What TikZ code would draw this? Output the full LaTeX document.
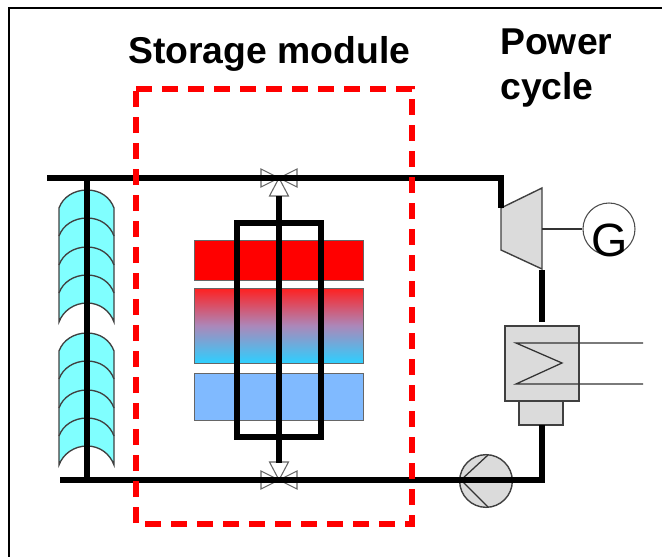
\documentclass[tikz,border=0pt]{standalone}
\usepackage{fontspec}
\setmainfont{Liberation Sans}
\definecolor{hot}{RGB}{255,0,0}
\definecolor{warm}{RGB}{255,32,32}
\definecolor{midc}{RGB}{172,135,185}
\definecolor{coolc}{RGB}{45,208,255}
\definecolor{cold}{RGB}{128,186,255}
\definecolor{mirrorc}{RGB}{128,255,255}
\tikzset{
  x=0.75pt,y=-0.75pt,
  pipe/.style={draw=black,line width=4.5pt,line cap=butt,line join=miter},
  thin line/.style={draw=black!80,line width=0.95pt},
  comp/.style={draw=black!75,line width=1.05pt,fill=black!14},
  tank/.style={draw=black!60,line width=0.65pt},
  mirror/.style={draw=black!75,line width=1pt,fill=mirrorc},
  valve/.style={draw=black!60,line width=0.8pt,fill=white},
  label/.style={font=\bfseries\fontsize{28}{32}\selectfont,inner sep=0pt,anchor=base west}
}
\newcommand{\mirrorstack}[1]{%
  \begin{scope}[shift={(0,#1)}]
  \path[mirror] (59,208) .. controls (63,197) and (74,190) .. (87,190)
     .. controls (100,190) and (110,197) .. (114,208)
     -- (114,322) .. controls (110,311) and (100,303) .. (87,303)
     .. controls (74,303) and (63,311) .. (59,322) -- cycle;
  \foreach \d in {28,57,85}{%
    \draw[mirror,fill=none] (59,\d+208) .. controls (63,\d+197) and (74,\d+190) .. (87,\d+190)
     .. controls (100,\d+190) and (110,\d+197) .. (114,\d+208);
  }
  \end{scope}}
\begin{document}
\begin{tikzpicture}
\useasboundingbox (0,0) rectangle (662,557);
\draw[black,line width=1.5pt] (9,557) -- (9,7.5) -- (662,7.5);
% labels
\node[label] (lblS) at (128,63) {Storage module};
\node[label] (lblP) at (500,54) {Power};
\node[label] (lblC) at (500,99.5) {cycle};
% mirrors
\mirrorstack{0}
\mirrorstack{143}
% tanks
\shade[top color=warm,bottom color=coolc,middle color=midc] (194,288) rectangle (363,363);
\path[tank,fill=hot] (194,240) rectangle (363,280);
\path[tank] (194,288) rectangle (363,363);
\path[tank,fill=cold] (194,373) rectangle (363,420);
% named points
\coordinate (topL) at (47,178);
\coordinate (botL) at (60,480);
\coordinate (vt) at (279,178);
\coordinate (vb) at (279,480);
\coordinate (tin) at (501,178);
% turbine
\path[comp] (501,208) -- (542,188) -- (542,269) -- (501,250) -- cycle;
\node[circle,draw=black!70,line width=0.8pt,fill=white,minimum size=39pt,inner sep=0pt] (gen) at (609,229) {};
\node[font=\fontsize{35}{35}\selectfont,inner sep=0pt] (gtext) at (610,240) {G};
\draw[thin line] (542,229) -- (gen);
% condenser
\path[comp] (505,326) rectangle (579,401);
\path[comp] (519,401) rectangle (563,425);
\draw[thin line] (643,343) -- (516,343) -- (562,363) -- (516,384) -- (643,384);
% pump
\node[circle,comp,minimum size=39.5pt,inner sep=0pt] (pump) at (486,481) {};
\draw[thin line] (461,480) -- (488,455);
\draw[thin line] (461,480) -- (488,507);
% valves
\foreach \c/\o in {vt/0,vb/180}{
  \begin{scope}[shift={(\c)},rotate=\o]
  \path[valve] (0,0) -- (-18,-9) -- (-18,9) -- cycle;
  \path[valve] (0,0) -- (18,-9) -- (18,9) -- cycle;
  \path[valve] (0,0) -- (-9.5,18) -- (9.5,18) -- cycle;
  \end{scope}
}
% pipes
\draw[pipe] (topL) -- (tin) -- (501,208);
\draw[pipe] (542,270) -- (542,322);
\draw[pipe] (542,425) -- (542,480) -- (botL);
\draw[pipe] (87,178) -- (87,480);
\draw[pipe] (279,196) -- (279,463);
\draw[pipe] (237,223) rectangle (320.5,436.5);
% dashed box
\draw[draw=hot,line width=4.5pt,dash pattern=on 12pt off 7.5pt] (136,89) -- (412,89) -- (412,524) -- (136,524) -- cycle;
\end{tikzpicture}
\end{document}
